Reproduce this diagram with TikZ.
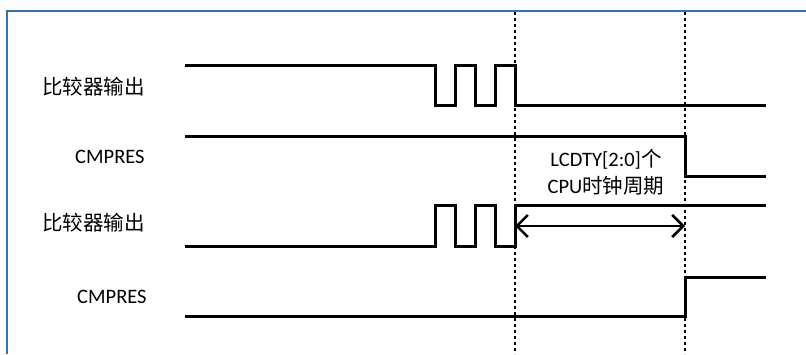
\documentclass[tikz,border=0pt]{standalone}
\usepackage{fontspec}
\setmainfont{Carlito}
\newfontfamily\cjk{Noto Sans CJK SC}
\usetikzlibrary{arrows.meta}
\definecolor{bordo}{RGB}{46,117,182}

\begin{document}
\begin{tikzpicture}[
		x=1pt, y=-1pt,
		segnale/.style={line width=3pt, line join=miter, black},
		guida/.style={line width=2pt, dash pattern=on 3pt off 3pt, black},
		cornice/.style={line width=2.2pt, bordo},
		quota/.style={{Straight Barb[length=11pt,width=22pt]}-{Straight Barb[length=11pt,width=22pt]}, line width=2.6pt, black},
		nome/.style={anchor=west, inner sep=0pt, font=\fontsize{20.5}{24}\selectfont}]
	
	\useasboundingbox (0,0) rectangle (806,354);
	
	\def\xS{185}                       %% inizio delle forme d'onda
	\def\xE{766}                       %% fine delle forme d'onda
	\def\xA{515}                       %% primo riferimento (fine impulsi)
	\def\xB{685}                       %% secondo riferimento (commutazione)
	\def\p{20}                         %% larghezza di un impulso
	\pgfmathsetmacro{\xP}{\xA-4*\p}    %% inizio del treno di impulsi
	
	%% --- cornice (solo i lati visibili) ---
	\draw[cornice] (7,354) -- (7,11) -- (806,11);
	
	%% --- linee guida tratteggiate ---
	\draw[guida] (\xA,12) -- (\xA,354);
	\draw[guida] (\xB,12) -- (\xB,354);
	
	%% --- etichette dei segnali ---
	\node[nome] (uscitaA) at (42,87) {\cjk 比较器输出};
	\node[nome] (cmpA) at (75,157) {CMPRES};
	\node[nome] (uscitaB) at (42,223) {\cjk 比较器输出};
	\node[nome] (cmpB) at (77,297) {CMPRES};
	
	%% --- primo caso: uscita alta, poi impulsi, poi bassa ---
	\draw[segnale] (\xS,65) -- (\xP,65) -- ++(0,40) -- ++(\p,0) -- ++(0,-40) -- ++(\p,0)
		-- ++(0,40) -- ++(\p,0) -- ++(0,-40) -- ++(\p,0) -- ++(0,40) -- (\xE,105);
	\draw[segnale] (\xS,136) -- (\xB,136) -- (\xB,176) -- (\xE,176);
	
	%% --- secondo caso (speculare) ---
	\draw[segnale] (\xS,246) -- (\xP,246) -- ++(0,-41) -- ++(\p,0) -- ++(0,41) -- ++(\p,0)
		-- ++(0,-41) -- ++(\p,0) -- ++(0,41) -- ++(\p,0) -- ++(0,-41) -- (\xE,205);
	\draw[segnale] (\xS,316) -- (\xB,316) -- (\xB,277) -- (\xE,277);
	
	%% --- quota del ritardo ---
	\coordinate (inizio) at (\xA,226);
	\coordinate (fine) at (\xB,226);
	\draw[quota] (inizio) -- (fine);
	\node[align=center, inner sep=0pt, font=\fontsize{20.5}{27}\selectfont] (ritardo) at (606,172)
		{LCDTY[2:0]{\cjk 个}\\CPU{\cjk 时钟周期}};
	
\end{tikzpicture}
\end{document}
